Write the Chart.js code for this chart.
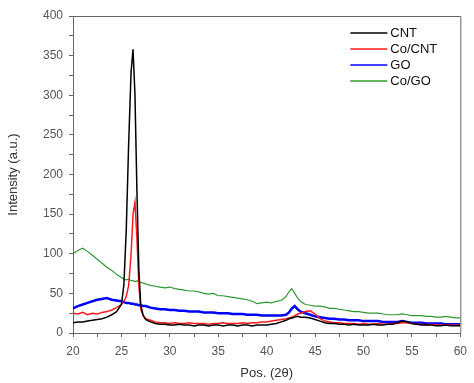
<!DOCTYPE html>
<html>
<head>
<meta charset="utf-8">
<script src="https://cdn.jsdelivr.net/npm/chart.js@4/dist/chart.umd.min.js"></script>
<style>
  html, body { margin: 0; padding: 0; background: #fff; }
  #wrap { width: 474px; height: 383px; }
</style>
</head>
<body>
<div id="wrap"><canvas id="xrd"></canvas></div>
<script>
// 2-theta positions (denser near the peaks)
const positions = [
  20, 20.5, 21, 21.5, 22, 22.5, 23, 23.5, 24, 24.5, 25,
  25.25, 25.5, 25.75, 26, 26.2, 26.4, 26.6, 26.8, 27, 27.25, 27.5,
  28, 28.5, 29, 29.5, 30, 30.5, 31, 31.5, 32, 32.5, 33, 33.5, 34, 34.5, 35,
  35.5, 36, 36.5, 37, 37.5, 38, 38.5, 39, 39.5, 40, 40.5, 41, 41.5, 42,
  42.3, 42.6, 42.9, 43.2, 43.5,
  44, 44.5, 45, 45.5, 46, 46.5, 47, 47.5, 48, 48.5, 49, 49.5, 50, 50.5, 51,
  51.5, 52, 52.5, 53, 53.5, 54, 54.5, 55, 55.5, 56, 56.5, 57, 57.5, 58, 58.5,
  59, 59.5, 60
];

const cnt = [
  13, 14, 14, 15, 16, 17, 18, 20, 23, 27, 36,
  60, 130, 240, 330, 358, 300, 180, 80, 35, 22, 17,
  14, 12, 11, 11, 10, 10, 11, 10, 10, 9, 10, 10, 9, 10, 10,
  9, 10, 10, 9, 10, 10, 9, 10, 10, 10, 11, 12, 14, 16,
  18, 19, 20, 21, 20,
  20, 19, 17, 15, 13, 12, 12, 11, 11, 10, 11, 10, 10, 10, 11,
  10, 10, 11, 11, 13, 15, 14, 12, 11, 10, 10, 10, 9, 9, 10,
  9, 9, 9
];

const coCnt = [
  25, 24, 26, 23, 25, 24, 26, 27, 29, 32, 36,
  40, 46, 60, 100, 150, 165, 120, 60, 30, 22, 18,
  16, 14, 13, 13, 12, 13, 12, 12, 13, 12, 12, 12, 11, 12, 12,
  13, 12, 12, 12, 13, 12, 13, 13, 14, 14, 15, 16, 17, 18,
  19, 20, 22, 24, 25,
  27, 28, 24, 18, 15, 14, 13, 13, 12, 12, 12, 11, 12, 11, 11,
  12, 11, 11, 12, 12, 13, 13, 12, 11, 11, 10, 11, 10, 10, 10,
  10, 10, 10
];

const go = [
  31, 34, 36, 38, 40, 42, 43, 44, 42, 41, 40,
  39, 38, 38, 37, 37, 36, 36, 35, 35, 34, 34,
  32, 31, 30, 30, 29, 29, 28, 28, 27, 27, 27, 26, 26, 26, 25,
  25, 25, 24, 24, 24, 23, 23, 23, 22, 22, 22, 22, 22, 23,
  26, 31, 34, 30, 27,
  25, 23, 21, 20, 19, 18, 18, 17, 17, 16, 16, 16, 15, 15, 15,
  15, 14, 14, 14, 14, 15, 14, 13, 13, 13, 12, 12, 12, 12, 11,
  11, 11, 11
];

const coGo = [
  100, 104, 107, 103, 98, 93, 88, 83, 79, 74, 70,
  68, 67, 68, 66, 66, 65, 66, 64, 64, 63, 62,
  60, 59, 58, 57, 58, 56, 55, 54, 53, 53, 52, 50, 49, 50, 47,
  47, 46, 45, 44, 43, 42, 40, 37, 38, 39, 38, 40, 41, 46,
  52, 56, 50, 44, 40,
  36, 35, 34, 34, 33, 31, 31, 30, 29, 28, 27, 27, 26, 25, 25,
  25, 24, 23, 23, 23, 24, 23, 22, 22, 22, 21, 21, 20, 20, 21,
  20, 19, 19
];

const seriesNames = ['CNT', 'Co/CNT', 'GO', 'Co/GO'];
const seriesColors = ['#000000', '#ff1a1a', '#0000ff', '#2e9a2e'];
const seriesWidths = [1.5, 1.5, 2.5, 1.2];
const seriesValues = [cnt, coCnt, go, coGo];

const toPoints = vals => positions.map((x, i) => ({ x: x, y: vals[i] }));

// frame on top and right edges of the plot
const frame = {
  id: 'frame',
  afterDraw(chart) {
    const { ctx, chartArea: a } = chart;
    ctx.save();
    ctx.strokeStyle = '#666';
    ctx.lineWidth = 1;
    ctx.beginPath();
    ctx.moveTo(a.left, a.top + 0.5);
    ctx.lineTo(a.right + 0.5, a.top + 0.5);
    ctx.lineTo(a.right + 0.5, a.bottom);
    ctx.stroke();
    ctx.restore();
  }
};

// legend drawn inside the plot, top right
const insideLegend = {
  id: 'insideLegend',
  afterDraw(chart) {
    const { ctx, chartArea: a } = chart;
    ctx.save();
    ctx.font = '13px "Liberation Sans", Arial, sans-serif';
    ctx.textBaseline = 'middle';
    chart.data.datasets.forEach((ds, i) => {
      const y = a.top + 17 + i * 16;
      ctx.strokeStyle = ds.borderColor;
      ctx.lineWidth = 1.5;
      ctx.beginPath();
      ctx.moveTo(a.right - 110, y);
      ctx.lineTo(a.right - 73, y);
      ctx.stroke();
      ctx.fillStyle = '#111';
      ctx.fillText(ds.label, a.right - 70, y);
    });
    ctx.restore();
  }
};

new Chart(document.getElementById('xrd'), {
  type: 'line',
  data: {
    datasets: seriesNames.map((name, i) => ({
      label: name,
      data: toPoints(seriesValues[i]),
      borderColor: seriesColors[i],
      borderWidth: seriesWidths[i],
      pointRadius: 0,
      tension: 0,
      fill: false
    }))
  },
  options: {
    responsive: true,
    maintainAspectRatio: false,
    animation: false,
    layout: { padding: { left: 6, right: 4, top: 16, bottom: 0 } },
    plugins: {
      legend: { display: false },
      tooltip: { enabled: false }
    },
    scales: {
      x: {
        type: 'linear',
        min: 20,
        max: 60,
        afterFit(scale) { scale.height = 50; },
        title: {
          display: true,
          text: 'Pos. (2θ)',
          color: '#333',
          font: { family: '"Liberation Sans", Arial, sans-serif', size: 13 },
          padding: { top: 4, bottom: 2 }
        },
        ticks: {
          stepSize: 2.5,
          autoSkip: false,
          maxRotation: 0,
          padding: 7,
          color: '#555',
          font: { family: '"Liberation Sans", Arial, sans-serif', size: 12 },
          callback: v => (v % 5 === 0 ? v : '')
        },
        grid: { drawOnChartArea: false, drawTicks: true, tickLength: 4, color: '#666' },
        border: { color: '#666', width: 1 }
      },
      y: {
        min: 0,
        max: 400,
        afterFit(scale) { scale.width = 67; },
        title: {
          display: true,
          text: 'Intensity (a.u.)',
          color: '#333',
          font: { family: '"Liberation Sans", Arial, sans-serif', size: 13 },
          padding: { top: 0, bottom: 4 }
        },
        ticks: {
          stepSize: 25,
          autoSkip: false,
          padding: 6,
          color: '#555',
          font: { family: '"Liberation Sans", Arial, sans-serif', size: 12 },
          callback: v => (v % 50 === 0 ? v : '')
        },
        grid: { drawOnChartArea: false, drawTicks: true, tickLength: 4, color: '#666' },
        border: { color: '#666', width: 1 }
      }
    }
  },
  plugins: [frame, insideLegend]
});
</script>
</body>
</html>
